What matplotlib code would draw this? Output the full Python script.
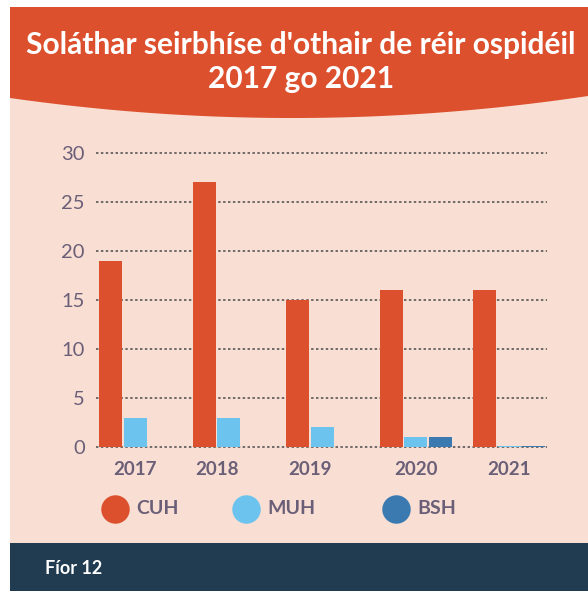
import matplotlib
matplotlib.use("Agg")
import matplotlib.pyplot as plt
import numpy as np
from matplotlib.patches import Rectangle, Polygon

years = ["2017", "2018", "2019", "2020", "2021"]
series = ["CUH", "MUH", "BSH"]
cuh = [19, 27, 15, 16, 16]
muh = [3, 3, 2, 1, 0.15]
bsh = [0, None, None, 1, 0.15]
yticks = [0, 5, 10, 15, 20, 25, 30]
title = "Soláthar seirbhíse d'othair de réir ospidéil\n2017 go 2021"
footer = "Fíor 12"

colors = ["#dd502d", "#6cc3ee", "#3a7ab1"]
bg_col = "#f9dfd3"
txt_col = "#6b5f78"
head_col = "#dd502d"
foot_col = "#213b50"

W, H = 588, 591
fig = plt.figure(figsize=(W / 100, H / 100), dpi=100)
fig.patch.set_facecolor("white")

# background layer in pixel coordinates
bg = fig.add_axes([0, 0, 1, 1], zorder=0)
bg.set_xlim(0, W)
bg.set_ylim(H, 0)
bg.axis("off")
bg.add_patch(Rectangle((10, 7), W - 10, H - 7, color=bg_col, lw=0))
# header with curved bottom
xs = np.linspace(10, W, 200)
t = (xs - 10) / (W - 10)
ybot = 98 * (1 - t) + 96 * t + 84 * t * (1 - t)
pts = [(10, 7), (W, 7)] + list(zip(xs[::-1], ybot[::-1]))
bg.add_patch(Polygon(pts, closed=True, color=head_col, lw=0))
bg.text(301, 45, title.split("\n")[0], ha="center", va="center", color="white",
        fontsize=21.5, fontweight="bold", family="Lato")
bg.text(301, 79, title.split("\n")[1], ha="center", va="center", color="white",
        fontsize=21.5, fontweight="bold", family="Lato")
# footer
bg.add_patch(Rectangle((10, 543), W - 10, H - 543, color=foot_col, lw=0))
bg.text(45, 569, footer, ha="left", va="center", color="white",
        fontsize=13, fontweight="bold", family="Lato")

# legend (manual)
leg_x = [115, 246, 396]
for x, lab, c in zip(leg_x, series, colors):
    bg.scatter([x], [509], s=420, color=c, marker="o", lw=0)
    bg.text(x + 21, 509, lab, ha="left", va="center", color=txt_col,
            fontsize=14, fontweight="bold", family="Lato")

# chart axes
L, R, B, T = 96, 547, 447, 153
ax = fig.add_axes([L / W, 1 - B / H, (R - L) / W, (B - T) / H], zorder=1)
ax.patch.set_alpha(0)
px = 93.5
bw = 23 / px
step = 24.5 / px
x0 = np.arange(len(years))
ax.set_xlim(-39.5 / px, 4 + 37.5 / px)
ax.set_ylim(0, 30)

tick_pos = []
for i in range(len(years)):
    vals = [cuh[i], muh[i], bsh[i]]
    present = [k for k, v in enumerate(vals) if v is not None]
    for k in present:
        cx = x0[i] + (k - 1) * step
        ax.bar(cx, vals[k], width=bw, color=colors[k], lw=0, zorder=3)
    centers = [x0[i] + (k - 1) * step for k in present]
    tick_pos.append((min(centers) + max(centers)) / 2)

for yv in yticks:
    ax.axhline(yv, color="#4a4a4a", lw=1.1, ls=(0, (1.6, 1.6)), zorder=2, clip_on=False)

for s in ax.spines.values():
    s.set_visible(False)
ax.set_yticks(yticks)
ax.set_yticklabels([str(v) for v in yticks], fontsize=14.5, color=txt_col, family="Lato")
ax.tick_params(axis="y", length=0, pad=8)
ax.set_xticks(tick_pos)
ax.set_xticklabels(years, fontsize=13.5, fontweight="bold", color=txt_col, family="Lato")
ax.tick_params(axis="x", length=0, pad=10)

fig.savefig("out.png", dpi=100, facecolor="white")
